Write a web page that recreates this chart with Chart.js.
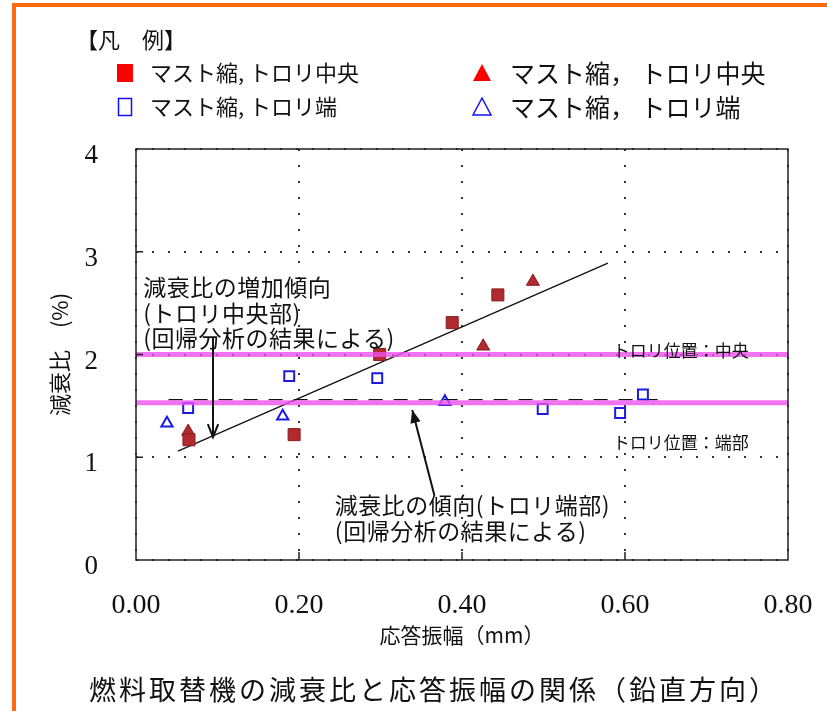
<!DOCTYPE html>
<html lang="ja">
<head>
<meta charset="utf-8">
<title>燃料取替機の減衰比と応答振幅の関係</title>
<script src="https://cdn.jsdelivr.net/npm/chart.js@4.4.1/dist/chart.umd.min.js"></script>
<style>
  html,body{margin:0;padding:0;background:#fff;overflow:hidden}
  #wrap{position:relative;width:827px;height:711px}
</style>
</head>
<body>
<div id="wrap"><canvas id="chartDamp"></canvas></div>
<script>
// ==================== Datos ====================
const xTickValues = [0, 0.2, 0.4, 0.6, 0.8];
const yTickValues = [0, 1, 2, 3, 4];

// マスト縮, トロリ中央 (■)
const centerSqX = [0.065, 0.194, 0.299, 0.388, 0.444];
const centerSqY = [1.17, 1.22, 2.00, 2.31, 2.58];
// マスト縮, トロリ中央 (▲)
const centerTriX = [0.064, 0.426, 0.487];
const centerTriY = [1.25, 2.08, 2.71];
// マスト縮, トロリ端 (□)
const edgeSqX = [0.064, 0.188, 0.296, 0.499, 0.594, 0.622];
const edgeSqY = [1.48, 1.79, 1.77, 1.47, 1.43, 1.61];
// マスト縮, トロリ端 (△)
const edgeTriX = [0.038, 0.180, 0.379];
const edgeTriY = [1.33, 1.40, 1.54];

// 回帰直線
const trendCenterX = [0.0515, 0.579];
const trendCenterY = [1.06, 2.89];
const trendEdgeX = [0.040, 0.652];
const trendEdgeY = [1.56, 1.56];

// トロリ位置ライン
const levelX = [0, 0.8];
const levelCenterY = [2.00, 2.00];
const levelEdgeY = [1.53, 1.53];

const legendLabels = ["マスト縮, トロリ中央", "マスト縮, トロリ端", "マスト縮， トロリ中央", "マスト縮， トロリ端"];

const FONT_JP = "'Noto Sans CJK JP', 'Noto Sans', sans-serif";
const FONT_NUM = "'Liberation Serif', 'DejaVu Serif', serif";

const pts = (xs, ys) => xs.map((x, i) => ({ x, y: ys[i] }));

// ==================== Decoración (marco, leyenda, notas) ====================
const notes = {
  center: { x: 0.009, lines: [["減衰比の増加傾向", 2.657], ["(トロリ中央部)", 2.404], ["(回帰分析の結果による)", 2.161]] },
  edge:   { x: 0.244, lines: [["減衰比の傾向(トロリ端部)", 0.535], ["(回帰分析の結果による)", 0.282]] },
  posC:   { x: 0.585, y: 2.034, text: "トロリ位置：中央" },
  posE:   { x: 0.585, y: 1.139, text: "トロリ位置：端部" },
  arrowC: { from: [0.0945, 2.16], to: [0.0945, 1.197] },
  arrowE: { from: [0.366, 0.633], to: [0.339, 1.46] }
};

function drawArrow(ctx, x1, y1, x2, y2, filled){
  const ang = Math.atan2(y2 - y1, x2 - x1);
  const len = 14, spread = 0.38;
  ctx.beginPath();
  ctx.moveTo(x1, y1);
  ctx.lineTo(x2, y2);
  ctx.stroke();
  ctx.beginPath();
  ctx.moveTo(x2 - len * Math.cos(ang - spread), y2 - len * Math.sin(ang - spread));
  ctx.lineTo(x2, y2);
  ctx.lineTo(x2 - len * Math.cos(ang + spread), y2 - len * Math.sin(ang + spread));
  if (filled){ ctx.closePath(); ctx.fill(); } else ctx.stroke();
}

function legendMark(ctx, kind, x, y){
  ctx.save();
  ctx.lineWidth = 1.5;
  if (kind === 0){ ctx.fillStyle = "#ff0000"; ctx.fillRect(x - 8, y - 9, 16, 18); }
  if (kind === 1){ ctx.strokeStyle = "#1010ff"; ctx.strokeRect(x - 6.5, y - 8.5, 13, 17); }
  if (kind === 2 || kind === 3){
    ctx.beginPath();
    ctx.moveTo(x, y - 9); ctx.lineTo(x + 9, y + 8); ctx.lineTo(x - 9, y + 8); ctx.closePath();
    if (kind === 2){ ctx.fillStyle = "#ff0000"; ctx.fill(); }
    else { ctx.strokeStyle = "#1010ff"; ctx.stroke(); }
  }
  ctx.restore();
}

const decorPlugin = {
  id: "decor",
  afterDraw(chart){
    const { ctx, chartArea: a, scales: { x, y } } = chart;
    const X = v => x.getPixelForValue(v);
    const Y = v => y.getPixelForValue(v);
    ctx.save();

    // marco naranja
    ctx.fillStyle = "#ff6a10";
    ctx.fillRect(12, 3, 827, 4);
    ctx.fillRect(12, 3, 4, 711);

    // caja del gráfico + marcas interiores
    ctx.strokeStyle = "#222";
    ctx.lineWidth = 1.5;
    ctx.strokeRect(a.left, a.top, a.right - a.left, a.bottom - a.top);
    ctx.beginPath();
    for (const v of yTickValues.slice(1, -1)){ ctx.moveTo(a.left, Y(v)); ctx.lineTo(a.left + 7, Y(v)); }
    for (const v of xTickValues.slice(1, -1)){ ctx.moveTo(X(v), a.bottom); ctx.lineTo(X(v), a.bottom - 8); }
    ctx.stroke();

    // leyenda
    ctx.fillStyle = "#111";
    ctx.textBaseline = "middle";
    ctx.textAlign = "left";
    ctx.font = "22px " + FONT_JP;
    ctx.fillText("【凡　例】", 76, 40);
    const cols = [[125, 150, 22], [482, 510, 25]];
    const rows = [73, 107];
    legendLabels.forEach((t, i) => {
      const c = cols[Math.floor(i / 2)], r = rows[i % 2];
      legendMark(ctx, i, c[0], r);
      ctx.fillStyle = "#111";
      ctx.font = c[2] + "px " + FONT_JP;
      ctx.fillText(t, c[1], r);
    });

    // notas
    ctx.fillStyle = "#111";
    ctx.font = "23px " + FONT_JP;
    ctx.letterSpacing = "0.5px";
    for (const [t, v] of notes.center.lines) ctx.fillText(t, X(notes.center.x), Y(v));
    for (const [t, v] of notes.edge.lines) ctx.fillText(t, X(notes.edge.x), Y(v));
    ctx.letterSpacing = "0px";
    ctx.font = "17px " + FONT_JP;
    ctx.fillText(notes.posC.text, X(notes.posC.x), Y(notes.posC.y));
    ctx.fillText(notes.posE.text, X(notes.posE.x), Y(notes.posE.y));

    ctx.strokeStyle = "#111";
    ctx.fillStyle = "#111";
    ctx.lineWidth = 2;
    drawArrow(ctx, X(notes.arrowC.from[0]), Y(notes.arrowC.from[1]), X(notes.arrowC.to[0]), Y(notes.arrowC.to[1]), false);
    drawArrow(ctx, X(notes.arrowE.from[0]), Y(notes.arrowE.from[1]), X(notes.arrowE.to[0]), Y(notes.arrowE.to[1]), true);

    // título inferior
    ctx.textAlign = "center";
    ctx.font = "27px " + FONT_JP;
    ctx.letterSpacing = "3px";
    ctx.fillText("燃料取替機の減衰比と応答振幅の関係（鉛直方向）", 434, 690);
    ctx.restore();
  }
};

// ==================== Gráfico ====================
const markRed = { backgroundColor: "#b02a2e", borderColor: "#8a1c1f", borderWidth: 1 };
const markBlue = { backgroundColor: "rgba(0,0,0,0)", borderColor: "#1a1ae0", borderWidth: 2 };

new Chart(document.getElementById("chartDamp").getContext("2d"), {
  type: "scatter",
  data: {
    datasets: [
      { label: "トロリ位置：中央", data: pts(levelX, levelCenterY), showLine: true, pointRadius: 0,
        borderColor: "rgba(238,80,238,0.8)", borderWidth: 5, order: 0 },
      { label: "トロリ位置：端部", data: pts(levelX, levelEdgeY), showLine: true, pointRadius: 0,
        borderColor: "rgba(238,80,238,0.8)", borderWidth: 5, order: 0 },
      { label: "傾向(中央)", data: pts(trendCenterX, trendCenterY), showLine: true, pointRadius: 0,
        borderColor: "#111", borderWidth: 1.3, order: 2 },
      { label: "傾向(端部)", data: pts(trendEdgeX, trendEdgeY), showLine: true, pointRadius: 0,
        borderColor: "#111", borderWidth: 1.3, borderDash: [14, 11], order: 2 },
      { label: legendLabels[0], data: pts(centerSqX, centerSqY), pointStyle: "rect", pointRadius: 8.5, ...markRed, order: 1 },
      { label: legendLabels[2], data: pts(centerTriX, centerTriY), pointStyle: "triangle", pointRadius: 7.5, ...markRed, order: 1 },
      { label: legendLabels[1], data: pts(edgeSqX, edgeSqY), pointStyle: "rect", pointRadius: 7, ...markBlue, order: 1 },
      { label: legendLabels[3], data: pts(edgeTriX, edgeTriY), pointStyle: "triangle", pointRadius: 6.5, ...markBlue, order: 1 }
    ]
  },
  options: {
    responsive: true,
    maintainAspectRatio: false,
    animation: false,
    layout: { autoPadding: false, padding: { left: 46, top: 149, right: 39, bottom: 63 } },
    plugins: { legend: { display: false }, tooltip: { enabled: false } },
    scales: {
      x: {
        type: "linear", min: 0, max: 0.8,
        afterBuildTicks: s => { s.ticks = xTickValues.map(v => ({ value: v })); },
        afterFit: s => { s.height = 88; s.paddingLeft = 0; s.paddingRight = 0; },
        ticks: { color: "#111", padding: 29, maxRotation: 0, font: { family: FONT_NUM, size: 28 }, callback: v => v.toFixed(2) },
        grid: { color: "#333", lineWidth: 2, drawTicks: false },
        border: { display: false, dash: [2, 14] },
        title: { display: true, text: "応答振幅（mm）", color: "#111", font: { family: FONT_JP, size: 21 }, padding: { top: 8, bottom: 0 } }
      },
      y: {
        type: "linear", min: 0, max: 4,
        afterBuildTicks: s => { s.ticks = yTickValues.map(v => ({ value: v })); },
        afterFit: s => { s.width = 90; s.paddingTop = 0; s.paddingBottom = 0; },
        ticks: { color: "#111", padding: 38, labelOffset: 7, font: { family: FONT_NUM, size: 27 }, callback: v => String(v) },
        grid: { color: "#333", lineWidth: 2, drawTicks: false },
        border: { display: false, dash: [2, 14] },
        title: { display: true, text: "減衰比　(%)", color: "#111", font: { family: FONT_JP, size: 22 }, padding: 0 }
      }
    }
  },
  plugins: [decorPlugin]
});
</script>
</body>
</html>
